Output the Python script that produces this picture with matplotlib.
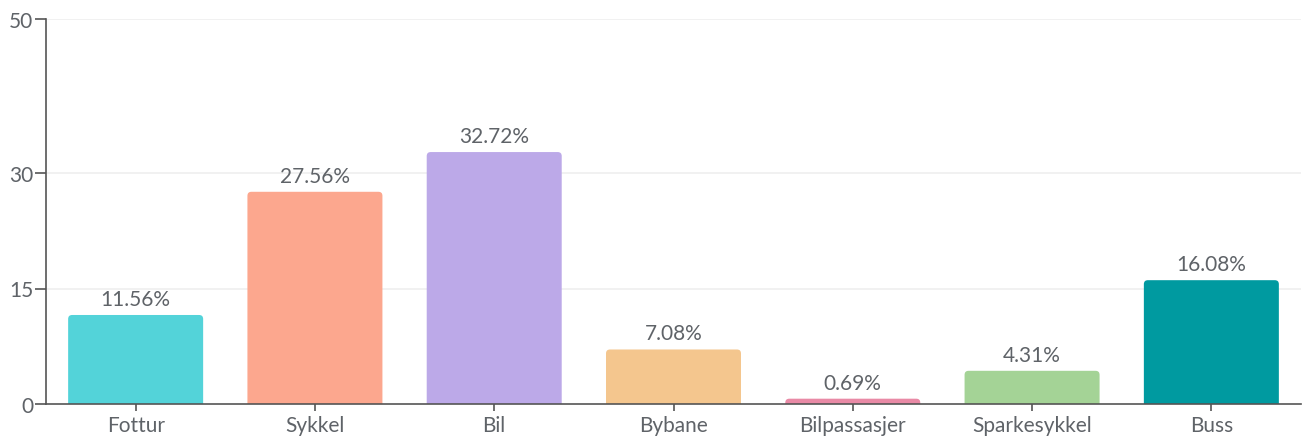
import matplotlib.pyplot as plt
from matplotlib.patches import FancyBboxPatch

categories = ["Fottur", "Sykkel", "Bil", "Bybane", "Bilpassasjer", "Sparkesykkel", "Buss"]
values = [11.56, 27.56, 32.72, 7.08, 0.69, 4.31, 16.08]
colors = ["#53d3d9", "#fca78e", "#bca9e8", "#f4c68e", "#e98aa6", "#a4d396", "#009aa0"]
y_ticks = [0, 15, 30, 50]

text_color = "#5f6368"
axis_color = "#555555"

plt.rcParams["font.family"] = ["Lato", "DejaVu Sans"]

fig = plt.figure(figsize=(13.02, 4.39), dpi=100)
ax = fig.add_axes([46 / 1302, 34 / 439, 1255 / 1302, 385 / 439])

ax.set_xlim(-0.5, len(categories) - 0.5)
ax.set_ylim(0, 50)

bar_width = 0.753
# pixels per data unit, used to keep the corner rounding circular
px_x = 1255 / len(categories)
px_y = 385 / 50
radius_px = 4
rx = radius_px / px_x
aspect = px_x / px_y

for i, (value, color) in enumerate(zip(values, colors)):
    ry = rx * aspect
    patch = FancyBboxPatch(
        (i - bar_width / 2, -ry),
        bar_width,
        value + ry,
        boxstyle=f"round,pad=0,rounding_size={rx}",
        mutation_aspect=aspect,
        facecolor=color,
        edgecolor="none",
        zorder=2,
    )
    ax.add_patch(patch)
    ax.text(
        i,
        value + 0.8,
        f"{value:.2f}%",
        ha="center",
        va="bottom",
        fontsize=15,
        color=text_color,
    )

ax.set_yticks(y_ticks)
ax.set_yticklabels([str(t) for t in y_ticks])
ax.set_xticks(range(len(categories)))
ax.set_xticklabels(categories)

for t in y_ticks[1:]:
    ax.axhline(t, color="#efefef", linewidth=1.2, zorder=0)

for side in ["top", "right"]:
    ax.spines[side].set_visible(False)
ax.spines["left"].set_color(axis_color)
ax.spines["bottom"].set_color(axis_color)
ax.spines["left"].set_linewidth(1.2)
ax.spines["bottom"].set_linewidth(1.2)
ax.spines["bottom"].set_zorder(3)

ax.tick_params(axis="y", length=8, width=1.2, color=axis_color, labelsize=15,
               labelcolor=text_color, pad=1)
ax.tick_params(axis="x", length=5, width=1.2, color=axis_color, labelsize=15,
               labelcolor=text_color, pad=3)

fig.savefig("out.png", dpi=100)
